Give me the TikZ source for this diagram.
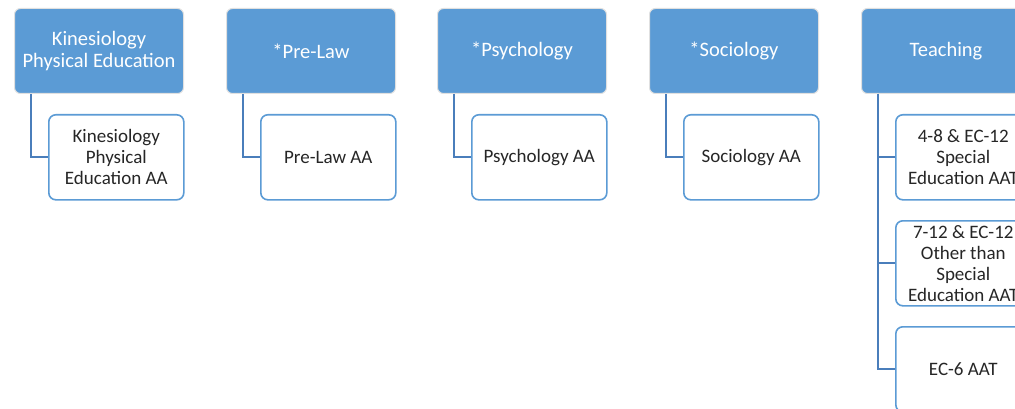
\documentclass[tikz,border=0pt]{standalone}
\usepackage{fontspec}
\setmainfont{Carlito}
\usepackage{tikz}
\usetikzlibrary{positioning}
\definecolor{headblue}{HTML}{5B9BD5}
\definecolor{linkblue}{HTML}{4A7EBB}
\tikzset{head/.style={draw=black!12,line width=1pt,rounded corners=6pt,fill=headblue,
 text=white,align=center,minimum width=169pt,minimum height=85pt,anchor=north west,
 font=\fontsize{20.5}{22}\selectfont,inner sep=2pt},
 sub/.style={draw=headblue,line width=1.6pt,rounded corners=7pt,fill=white,
 text=black!85,align=center,minimum width=135pt,minimum height=85pt,anchor=north west,
 font=\fontsize{19}{21}\selectfont,inner sep=2pt},
 conn/.style={draw=linkblue,line width=2.2pt}}

\begin{document}
\begin{tikzpicture}[x=1pt,y=-1pt]
\clip (0,0) rectangle (1015,409);
\fill[white] (0,0) rectangle (1015,409);
\node[head] (kin) at (14,8) {Kinesiology\\Physical Education};
\node[head] (law) at (226,8) {*Pre-Law};
\node[head] (psy) at (437,8) {*Psychology};
\node[head] (soc) at (649,8) {*Sociology};
\node[head] (tea) at (861,8) {Teaching};
\node[sub] (kinaa) at (48,114) {Kinesiology\\Physical\\Education AA};
\node[sub] (lawaa) at (260,114) {Pre-Law AA};
\node[sub] (psyaa) at (471,114) {Psychology AA};
\node[sub] (socaa) at (683,114) {Sociology AA};
\node[sub] (teaa) at (895,114) {4-8 \& EC-12\\Special\\Education AAT};
\node[sub] (teab) at (895,220) {7-12 \& EC-12\\Other than\\Special\\Education AAT};
\node[sub] (teac) at (895,326) {EC-6 AAT};
\draw[conn] ([xshift=17pt]kin.south west) |- (kinaa.west);
\draw[conn] ([xshift=17pt]law.south west) |- (lawaa.west);
\draw[conn] ([xshift=17pt]psy.south west) |- (psyaa.west);
\draw[conn] ([xshift=17pt]soc.south west) |- (socaa.west);
\draw[conn] ([xshift=17pt]tea.south west) |- (teac.west);
\draw[conn] ([xshift=17pt]tea.south west) |- (teaa.west);
\draw[conn] ([xshift=17pt]tea.south west) |- (teab.west);
\end{tikzpicture}
\end{document}
